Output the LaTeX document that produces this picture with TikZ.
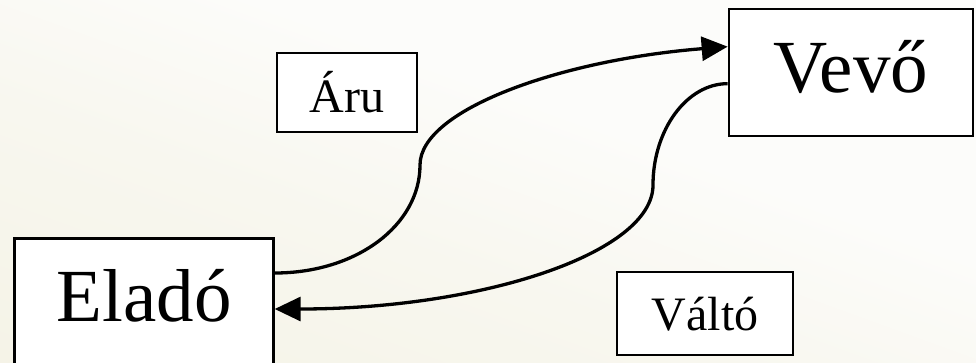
\documentclass[tikz,border=0pt]{standalone}
\usepackage{fontspec}
\setmainfont{Liberation Serif}
\usetikzlibrary{arrows.meta,calc}
\definecolor{bgL}{HTML}{F3F1E3}
\definecolor{bgA}{HTML}{F8F7EF}
\definecolor{bgM}{HTML}{FCFCFA}
\definecolor{bgR}{HTML}{F7F6EE}
\pgfdeclarehorizontalshading{bgshade}{100bp}{
  color(0bp)=(bgL); color(25bp)=(bgL); color(45bp)=(bgA); color(55bp)=(bgM);
  color(68bp)=(bgM); color(85bp)=(bgR); color(100bp)=(bgR)}
\tikzset{
  box/.style={draw=black, line width=2.7pt, fill=white, inner sep=0pt},
  bigtxt/.style={font=\fontsize{75}{80}\selectfont},
  smalltxt/.style={font=\fontsize{48}{52}\selectfont},
  conn/.style={line width=3.3pt, -{Triangle[length=26pt,width=24pt]}}
}
\begin{document}
\begin{tikzpicture}[x=1pt,y=-1pt]
\useasboundingbox (0,0) rectangle (976,362);
\shade[shading=bgshade, shading angle=70] (-200,-200) rectangle (1176,562);
\begin{scope}
\clip (0,0) rectangle (976,362);
\node[box, minimum width=259pt, minimum height=150pt, anchor=north west] (elado) at (13,237) {};
\end{scope}
\node[bigtxt] (eladotxt) at (144,296) {Eladó};
\node[box, bigtxt, text depth=12pt, minimum width=244pt, minimum height=127pt] (vevo) at (851,72.5) {Vevő};
\node[box, smalltxt, minimum width=140pt, minimum height=79pt] (aru) at (347,92.5) {Áru};
\node[box, smalltxt, text depth=-4pt, minimum width=176pt, minimum height=83pt] (valto) at (705,313.5) {Váltó};
% Áru: Eladó -> Vevő
\draw[conn] ([yshift=-36pt]elado.north east)
  .. controls +(82,0) and (420,225) .. (420,165)
  .. controls (420,110) and (560,60) .. ([yshift=-39pt]vevo.north west);
% Váltó: Vevő -> Eladó
\draw[conn] ([yshift=-76pt]vevo.north west)
  .. controls +(-41,0) and (653,130) .. (653,185)
  .. controls (653,253) and (482,309) .. ([yshift=-72pt]elado.north east);
\end{tikzpicture}
\end{document}
